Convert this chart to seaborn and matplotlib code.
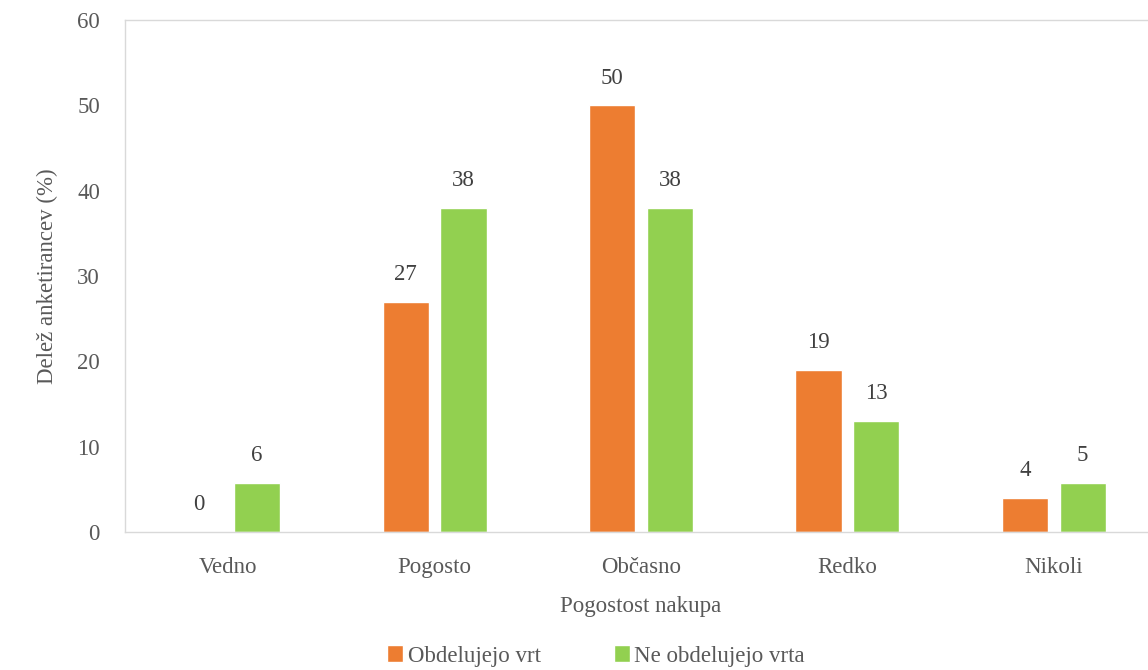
import matplotlib
matplotlib.use("Agg")
import matplotlib.pyplot as plt
import pandas as pd
import seaborn as sns

# data
categories = ["Vedno", "Pogosto", "Občasno", "Redko", "Nikoli"]
series = ["Obdelujejo vrt", "Ne obdelujejo vrta"]
vrt = [0, 27, 50, 19, 4]
brez_vrta = [5.8, 38, 38, 13, 5.8]
vrt_labels = ["0", "27", "50", "19", "4"]
brez_labels = ["6", "38", "38", "13", "5"]
colors = ["#ED7D31", "#92D050"]

df = pd.DataFrame({
    "kategorija": categories * 2,
    "skupina": [series[0]] * len(categories) + [series[1]] * len(categories),
    "delez": vrt + brez_vrta,
})

sns.set_theme(style="white")
plt.rcParams["font.family"] = ["Liberation Serif", "DejaVu Serif"]
txt = "#595959"
fs = 16.5

fig = plt.figure(figsize=(11.48, 6.7), dpi=100)
ax = fig.add_axes([125 / 1148, 138 / 670, 1032 / 1148, 512 / 670])

sns.barplot(data=df, x="kategorija", y="delez", hue="skupina",
            palette=colors, saturation=1, width=0.56, gap=0.2, ax=ax,
            errorbar=None)

for cont, labs in zip(ax.containers, [vrt_labels, brez_labels]):
    ax.bar_label(cont, labels=labs, padding=12, fontsize=fs, color="#404040")

ax.set_ylim(0, 60)
ax.set_yticks(range(0, 61, 10))
ax.set_xlim(-0.5, 4.5)
ax.tick_params(axis="both", length=0, labelsize=fs, colors=txt)
ax.tick_params(axis="x", pad=18)
ax.tick_params(axis="y", pad=18)
ax.set_xlabel("Pogostost nakupa", fontsize=fs, color=txt, labelpad=13)
ax.set_ylabel("Delež anketirancev (%)", fontsize=fs, color=txt, labelpad=14)

for side in ["top", "left", "bottom"]:
    ax.spines[side].set_color("#D9D9D9")
    ax.spines[side].set_linewidth(1)
ax.spines["right"].set_visible(False)

handles, labels = ax.get_legend_handles_labels()
ax.legend(handles, labels, loc="center", bbox_to_anchor=(596 / 1148, 14 / 670),
          bbox_transform=fig.transFigure, ncol=2, frameon=False, fontsize=fs,
          handlelength=0.7, handleheight=0.7, handletextpad=0.2, columnspacing=3.2,
          labelcolor=txt)

fig.savefig("out.png", dpi=100)
